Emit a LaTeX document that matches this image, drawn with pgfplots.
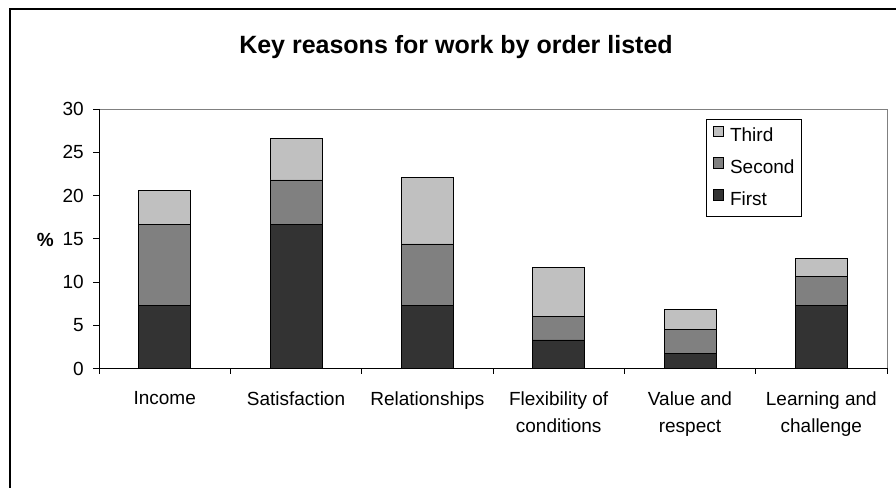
\documentclass[border=0pt]{standalone}
\usepackage{fontspec}
\setmainfont{Liberation Sans}
\usepackage{pgfplots}
\pgfplotsset{compat=1.18}
\definecolor{cfirst}{HTML}{333333}
\definecolor{csecond}{HTML}{808080}
\definecolor{cthird}{HTML}{C0C0C0}
\pgfplotsset{sqleg/.style={legend image code/.code={\draw[##1,draw=black,line width=0.8bp] (0bp,0bp) rectangle (10.5bp,10.5bp);}}}
\begin{document}
\begin{tikzpicture}[x=1bp,y=1bp]
\useasboundingbox (0,0) rectangle (896,488);
\draw[line width=1.2bp] (10,0) -- (10,479) -- (896,479);
\node[anchor=base, inner sep=0pt, font=\fontsize{25bp}{30bp}\selectfont\bfseries] at (456,434) {Key reasons for work by order listed};
\node[anchor=east, inner sep=0pt, font=\fontsize{19bp}{23bp}\selectfont\bfseries] at (54,248.5) {\%};
\begin{axis}[
  at={(99bp,119.5bp)}, anchor=south west,
  scale only axis, width=788bp, height=259.5bp,
  ybar stacked, bar width=52bp,
  xmin=-0.5, xmax=5.5, ymin=0, ymax=30,
  xtick={0,...,5},
  xticklabels={Income,Satisfaction,Relationships,{Flexibility of\\conditions},{Value and\\respect},{Learning and\\challenge}},
  ytick={0,5,...,30},
  ytick pos=left,
  tick align=outside, major tick length=6bp,
  xtick style={draw=none},
  ytick style={black, line width=0.8bp},
  axis line style={draw=gray, line width=0.8bp},
  /pgf/number format/assume math mode=true,
  tick label style={font=\fontsize{19bp}{27bp}\selectfont},
  xticklabel style={align=center, anchor=north, inner sep=0pt, yshift=-17bp},
  yticklabel style={anchor=east, inner sep=0pt, xshift=-9bp},
  clip=false,
  reverse legend,
  legend style={at={(0.892,0.961)}, anchor=north east, draw=black, line width=0.8bp,
    font=\fontsize{19bp}{23bp}\selectfont, row sep=10.5bp, column sep=5bp, inner xsep=6bp, inner ysep=6bp,
    nodes={inner sep=1bp, text height=15bp, text depth=4bp}},
  legend cell align=left,
]
\addplot[fill=cfirst, draw=black, line width=0.8bp, sqleg] coordinates {(0,7.3) (1,16.7) (2,7.3) (3,3.3) (4,1.7) (5,7.3)};
\addplot[fill=csecond, draw=black, line width=0.8bp, sqleg] coordinates {(0,9.4) (1,5.1) (2,7.1) (3,2.7) (4,2.8) (5,3.3)};
\addplot[fill=cthird, draw=black, line width=0.8bp, sqleg] coordinates {(0,3.9) (1,4.8) (2,7.7) (3,5.7) (4,2.3) (5,2.1)};
\legend{First,Second,Third}
\draw[black, line width=0.8bp] (rel axis cs:0,1) -- (rel axis cs:0,0) -- (rel axis cs:1,0);
\pgfplotsinvokeforeach{-0.5,0.5,1.5,2.5,3.5,4.5,5.5}{\draw[black, line width=0.8bp] (axis cs:#1,0) -- ++(0bp,-6bp);}
\end{axis}
\end{tikzpicture}
\end{document}
